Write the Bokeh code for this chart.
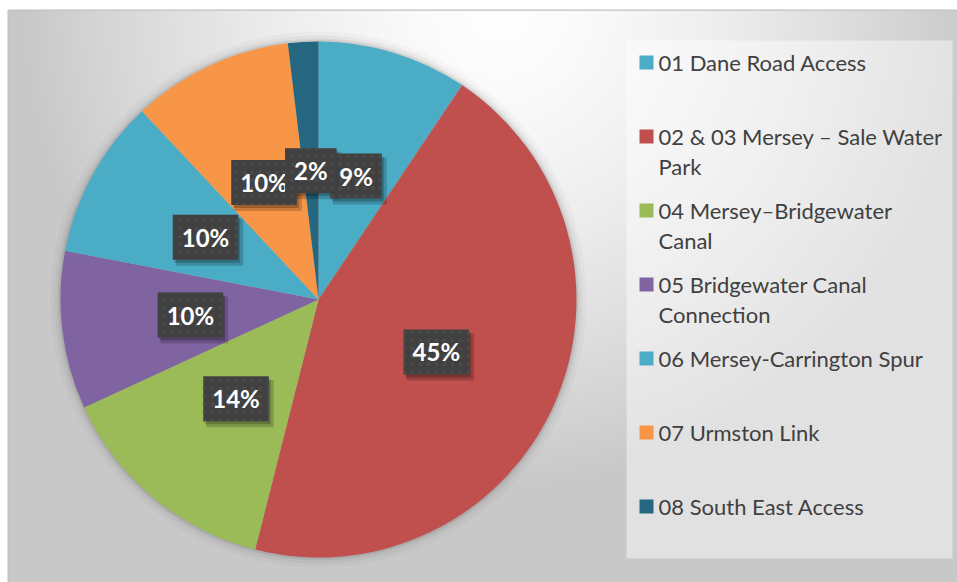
import numpy as np
from bokeh.plotting import figure
from bokeh.models import Range1d, ColumnDataSource
from bokeh.embed import file_html
from bokeh.resources import INLINE
from bokeh.core.properties import value

# ---- data ----
categories = [
    "01 Dane Road Access",
    "02 & 03 Mersey \u2013 Sale Water\nPark",
    "04 Mersey\u2013Bridgewater\nCanal",
    "05 Bridgewater Canal\nConnection",
    "06 Mersey-Carrington Spur",
    "07 Urmston Link",
    "08 South East Access",
]
shares = [9.4, 44.6, 14.2, 9.9, 10.0, 10.1, 1.9]
colors = ["#4BACC6", "#C0504D", "#9BBB59", "#8064A2", "#4BACC6", "#F79646", "#256680"]

W, H = 949, 572
p = figure(width=957, height=582, x_range=Range1d(0, W), y_range=Range1d(0, H),
           output_backend="svg", toolbar_location=None,
           x_axis_location=None, y_axis_location=None,
           min_border_top=10, min_border_left=8, min_border_right=0, min_border_bottom=0)
p.grid.visible = False
p.outline_line_color = "#c0c0c0"
p.outline_line_width = 2
p.background_fill_color = "#d0d0d0"
p.border_fill_color = "white"

# ---- background radial gradient (decoration) ----
nx, ny = 475, 286
X = (np.arange(nx) + 0.5) * W / nx
Yd = (np.arange(ny) + 0.5) * H / ny
XX, YY = np.meshgrid(X, Yd)
d = np.sqrt((XX - 492) ** 2 + ((H - YY) * 1.0) ** 2)
t = np.clip(d / 480.0, 0, 1) ** 1.5
v = (254 - 54 * t).astype(np.uint8)
img = np.empty((ny, nx), dtype=np.uint32)
view = img.view(dtype=np.uint8).reshape((ny, nx, 4))
view[..., 0] = v
view[..., 1] = v
view[..., 2] = v
view[..., 3] = 255
p.image_rgba(image=[img], x=0, y=0, dw=W, dh=H)

# ---- pie ----
cx, cy, R = 310, 283, 258
for k, a in [(10, 0.025), (6, 0.035), (3, 0.05), (1.5, 0.06)]:
    p.circle(x=cx, y=cy, radius=R + k, fill_color="black", fill_alpha=a, line_color=None)

frac = np.array(shares) / sum(shares)
ends = np.cumsum(frac) * 2 * np.pi
starts = ends - frac * 2 * np.pi
src = ColumnDataSource(dict(start=np.pi / 2 - ends, end=np.pi / 2 - starts, color=colors))
p.wedge(x=cx, y=cy, radius=R, start_angle="start", end_angle="end",
        fill_color="color", line_color=None, source=src)

mid = (starts + ends) / 2
lab = ColumnDataSource(dict(
    x=cx + 0.5 * R * np.sin(mid),
    y=cy + 0.5 * R * np.cos(mid),
    text=[f"{round(f * 100)}%" for f in frac],
))
p.text(x="x", y="y", text="text", source=lab, text_align="center", text_baseline="middle",
       text_font=value("Lato"), text_font_style="bold", text_font_size="24px",
       text_color="white", text_alpha=0.0, x_offset=4, y_offset=5,
       background_fill_color="black", background_fill_alpha=0.18, padding=(10, 9))
p.text(x="x", y="y", text="text", source=lab, text_align="center", text_baseline="middle",
       text_font=value("Lato"), text_font_style="bold", text_font_size="24px",
       text_color="white", text_alpha=0.0, x_offset=2, y_offset=3,
       background_fill_color="black", background_fill_alpha=0.22, padding=(9, 8))
p.text(x="x", y="y", text="text", source=lab, text_align="center", text_baseline="middle",
       text_font=value("Lato"), text_font_style="bold", text_font_size="24px",
       text_color="white",
       background_fill_color="#404040", background_hatch_pattern="dot",
       background_hatch_color="#4a4a4a", background_hatch_scale=8, background_hatch_weight=2,
       padding=(9, 8))

# ---- legend (drawn) ----
p.quad(left=618, right=944, top=542, bottom=24, fill_color="white", fill_alpha=0.45, line_color=None)
ly0, step = 520, 74
mk_y = [ly0 - step * i for i in range(len(categories))]
p.rect(x=638, y=mk_y, width=14, height=14, fill_color=colors, line_color=None)
tx, ty, tt = [], [], []
for i, c in enumerate(categories):
    for k, line in enumerate(c.split("\n")):
        tx.append(650)
        ty.append(mk_y[i] - 30 * k)
        tt.append(line)
p.text(x=tx, y=ty, text=tt, text_align="left", text_baseline="middle",
       text_font=value("Lato"), text_font_size="22px", text_color="#404040")

open("out.html", "w").write(file_html(p, INLINE))
